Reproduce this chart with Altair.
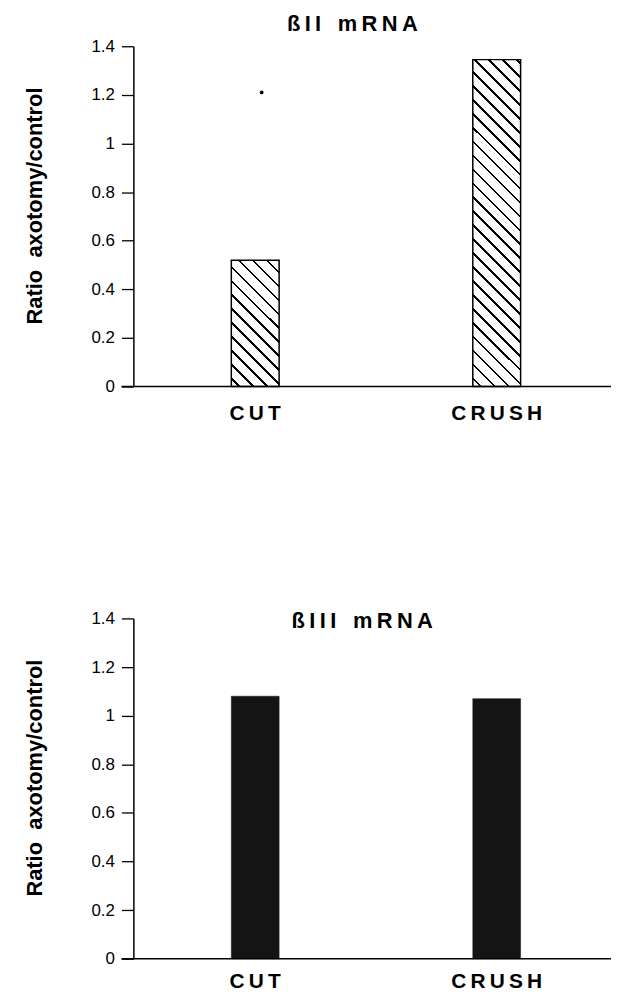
import math
import altair as alt
import pandas as pd

# ---------------- data ----------------
categories = ["CUT", "CRUSH"]
beta2_values = [0.52, 1.345]          # ßII mRNA (hatched bars)
beta3_values = [1.08, 1.07]           # ßIII mRNA (dark bars)
stray_dot_category = ["CUT"]          # isolated dot printed above the CUT bar (top panel)
stray_dot_value = [1.21]
y_ticks = [0, 0.2, 0.4, 0.6, 0.8, 1.0, 1.2, 1.4]
panel_titles = ["ßII mRNA", "ßIII mRNA"]
y_title = "Ratio  axotomy/control"

# ---------------- styling ----------------
W = 480
H = 342
Y_MAX = 1.4
BAR_W = 48
FONT = "Liberation Sans, Arial, Helvetica, sans-serif"
THIN = "\u2009"
NBSP = "\u00a0"


def tracked(text):
    """Letter-spaced display form of a title (the print uses wide tracking)."""
    return (NBSP + NBSP + THIN).join(THIN.join(w) for w in text.split(" "))


def hatch_gradient(value):
    """Diagonal '\\' hatching built as a hard-stop linear gradient."""
    h = value / Y_MAX * H
    w = BAR_W
    r = h / w
    tc = (1 + r) / (1 + r * r)
    x2 = tc
    y2 = 1 - r * tc
    L = (w + h) / math.sqrt(2)
    period = 14 / math.sqrt(2)
    lw = 1.9
    stops = [{"offset": 0, "color": "white"}]
    pos = period * 0.6
    while pos < L:
        a = round(max(0.0, (pos - lw / 2) / L), 5)
        b = round(min(1.0, (pos + lw / 2) / L), 5)
        stops += [
            {"offset": a, "color": "white"},
            {"offset": a, "color": "black"},
            {"offset": b, "color": "black"},
            {"offset": b, "color": "white"},
        ]
        pos += period
    stops.append({"offset": 1, "color": "white"})
    return {"gradient": "linear", "x1": 0, "y1": 1, "x2": round(x2, 5),
            "y2": round(y2, 5), "stops": stops}


def panel(values, title, title_dx, title_offset, label_pad, hatched):
    df = pd.DataFrame({"category": categories, "value": values})

    x_enc = alt.X(
        "category:N",
        sort=categories,
        title=None,
        scale=alt.Scale(domain=categories, paddingInner=0.802,
                        paddingOuter=0.39, align=0.52),
        axis=alt.Axis(
            domain=False, ticks=False, tickSize=0, labelAngle=0,
            labelFont=FONT, labelFontSize=21, labelFontWeight="bold",
            labelColor="black", labelPadding=label_pad,
            labelExpr="join(split(datum.label, ''), '\u2009')",
        ),
    )
    y_enc = alt.Y(
        "value:Q",
        scale=alt.Scale(domain=[0, Y_MAX], nice=False, zero=True),
        axis=alt.Axis(
            values=y_ticks, format="~g", grid=False,
            title=y_title.replace("  ", NBSP + NBSP), titleFont=FONT,
            titleFontSize=22, titleFontWeight="bold", titleColor="black",
            titlePadding=45, titleY=H / 2 - 11,
            labelFont=FONT, labelFontSize=17, labelColor="black",
            labelPadding=7, tickSize=12, tickColor="black", tickWidth=1.3,
            domainColor="black", domainWidth=1.5,
        ),
    )

    base = alt.Chart(df)
    layers = []
    if hatched:
        for c, v in zip(categories, values):
            layers.append(
                base.transform_filter(alt.datum.category == c)
                .mark_bar(fill=hatch_gradient(v), stroke="black",
                          strokeWidth=1.5)
                .encode(x=x_enc, y=y_enc)
            )
    else:
        layers.append(
            base.mark_bar(fill="#141414", stroke="#141414", strokeWidth=0.5)
            .encode(x=x_enc, y=y_enc)
        )

    baseline = alt.Chart(pd.DataFrame({"z": [0]})).mark_rule(
        color="black", strokeWidth=1.6
    ).encode(y=alt.datum(0), x=alt.value(-12), x2=alt.value(W))
    layers.append(baseline)

    if hatched:
        dot_df = pd.DataFrame({"category": stray_dot_category,
                               "value": stray_dot_value})
        layers.append(
            alt.Chart(dot_df).mark_circle(size=14, color="black", opacity=1,
                                          xOffset=6.5)
            .encode(x=alt.X("category:N", sort=categories),
                    y=alt.Y("value:Q"))
        )

    return alt.layer(*layers).properties(
        width=W, height=H,
        title=alt.TitleParams(
            text=tracked(title), font=FONT, fontSize=22, fontWeight="bold",
            color="black", anchor="middle", frame="group",
            baseline="bottom", offset=title_offset, dx=title_dx,
        ),
    )


top = panel(beta2_values, panel_titles[0], -20, -20.5, 16, True)
bottom = panel(beta3_values, panel_titles[1], -10, -46, 12, False)

chart = alt.vconcat(top, bottom, spacing=187).properties(
    padding={"left": 15, "top": 2, "right": 0, "bottom": 0},
    background="white",
).configure_view(strokeWidth=0, stroke="transparent")

chart.save("out.html", embed_options={"renderer": "svg", "actions": False})
